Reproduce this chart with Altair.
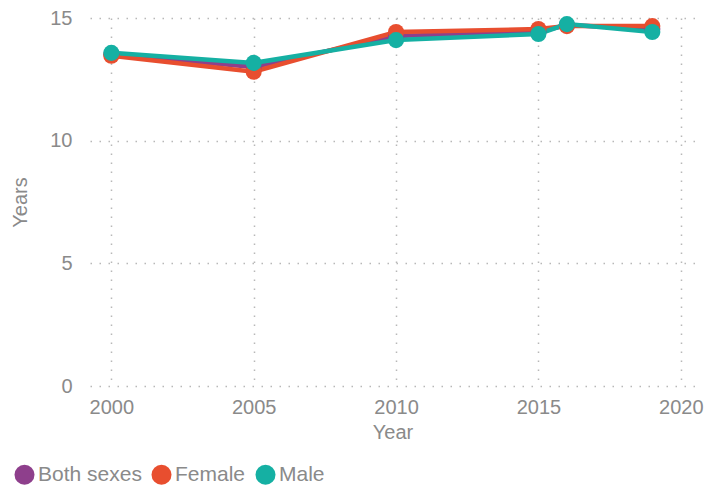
import altair as alt
import pandas as pd

years = [2000, 2005, 2010, 2015, 2016, 2019]
both = [13.52, 13.0, 14.27, 14.43, 14.71, 14.55]
female = [13.46, 12.81, 14.43, 14.55, 14.67, 14.67]
male = [13.58, 13.17, 14.10, 14.35, 14.75, 14.43]

series = ["Both sexes", "Female", "Male"]
colors = ["#8E3F8C", "#E84E2F", "#15B0A3"]

rows = []
for name, vals in zip(series, [both, female, male]):
    for y, v in zip(years, vals):
        rows.append({"Year": y, "Value": v, "Sex": name})
df = pd.DataFrame(rows)

FONT = "Liberation Sans, Arial"
GREY = "#8a8a8a"
FS = 20

x = alt.X("Year:Q", scale=alt.Scale(domain=[1999.25, 2020.5], nice=False, zero=False),
          axis=alt.Axis(values=[2000, 2005, 2010, 2015, 2020], format="d", title="Year",
                        grid=True, gridDash=[1.5, 7.5], gridColor="#b8b8b8", gridWidth=1.5,
                        domain=False, ticks=False, labelPadding=11, titlePadding=5))
y = alt.Y("Value:Q", scale=alt.Scale(domain=[0, 15], nice=False),
          axis=alt.Axis(values=[0, 5, 10, 15], title="Years", grid=True,
                        gridDash=[1.5, 7.5], gridColor="#b8b8b8", gridWidth=1.5,
                        domain=False, ticks=False, labelPadding=18, titlePadding=19))
color = alt.Color("Sex:N", scale=alt.Scale(domain=series, range=colors),
                  legend=alt.Legend(title=None, orient="none", direction="horizontal",
                                    legendX=-76, legendY=446,
                                    symbolType="circle", symbolSize=400, symbolStrokeWidth=0,
                                    labelFontSize=21, labelFont=FONT, labelColor=GREY,
                                    columnPadding=9, labelOffset=3, symbolOpacity=1))

base = alt.Chart(df)
lines = base.mark_line(strokeWidth=4.5, opacity=1).encode(x=x, y=y, color=color, order="Year:Q")
points = base.mark_circle(size=260, opacity=1).encode(x=x, y=y, color=color)

chart = alt.layer(lines, points).properties(
    width=605, height=368,
    autosize=alt.AutoSizeParams(type="none"),
    padding={"left": 82, "top": 10, "right": 19, "bottom": 100},
).configure_axis(
    labelFont=FONT, titleFont=FONT, labelFontSize=FS, titleFontSize=20,
    labelColor=GREY, titleColor=GREY, titleFontWeight="normal",
).configure_view(stroke=None)

chart.save("out.html", embed_options={"renderer": "svg", "actions": False})
